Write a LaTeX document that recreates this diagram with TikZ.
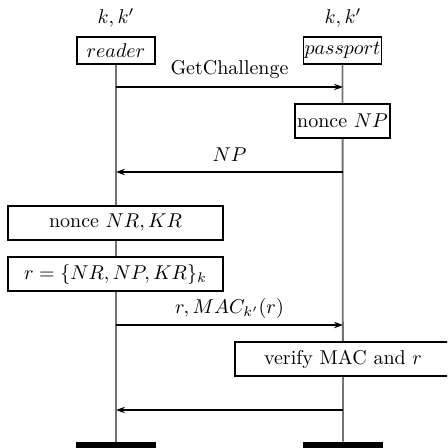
\documentclass[tikz,border=0pt]{standalone}
\usetikzlibrary{arrows.meta}
\begin{document}
\begin{tikzpicture}[x=0.5pt,y=-0.5pt,
  inst/.style={draw=black,line width=0.65pt,fill=white,inner sep=0pt,minimum width=39pt,minimum height=13.5pt},
  act/.style={draw=black,line width=0.65pt,fill=white,inner sep=0pt,minimum height=17pt},
  life/.style={draw=black!55,line width=0.9pt},
  msg/.style={draw=black,line width=0.6pt,-{Stealth[length=4.5pt,width=3.2pt]}},
  endbar/.style={fill=black,draw=none,inner sep=0pt,minimum width=40pt,minimum height=6pt}]
\useasboundingbox (0,0) rectangle (447,448);
\clip (0,0) rectangle (447,448);
% instance heads
\node[inst] (reader) at (116,50.5) {$reader$};
\node[inst] (passport) at (342.5,50.5) {$passport$};
\node (rk) at (116,18) {$k, k'$};
\node (pk) at (343,18) {$k, k'$};
% end bars
\node[endbar] (rend) at (116,448) {};
\node[endbar] (pend) at (343,448) {};
% lifelines
\draw[life] (reader.south) -- (rend.north);
\draw[life] (passport.south) -- (pend.north);
% actions
\node[act,minimum width=47.5pt] (nnp) at (342.5,121) {nonce $NP$};
\node[act,minimum width=107.5pt] (nnr) at (115.5,223) {nonce $NR, KR$};
\node[act,minimum width=107.5pt] (rdef) at (115.5,274) {$r = \{NR, NP, KR\}_k$};
\node[act,minimum width=108pt] (ver) at (343,359) {verify MAC and $r$};
% message anchors
\coordinate (r1) at (116,87);  \coordinate (p1) at (343,87);
\coordinate (r2) at (116,172); \coordinate (p2) at (343,172);
\coordinate (r3) at (116,325); \coordinate (p3) at (343,325);
\coordinate (r4) at (116,410); \coordinate (p4) at (343,410);
% messages
\draw[msg] (r1) -- (p1);
\node (l1) at (229.5,70) {GetChallenge};
\draw[msg] (p2) -- (r2);
\node (l2) at (229.5,155) {$NP$};
\draw[msg] (r3) -- (p3);
\node (l3) at (229.5,308) {$r, MAC_{k'}(r)$};
\draw[msg] (p4) -- (r4);
\end{tikzpicture}
\end{document}
